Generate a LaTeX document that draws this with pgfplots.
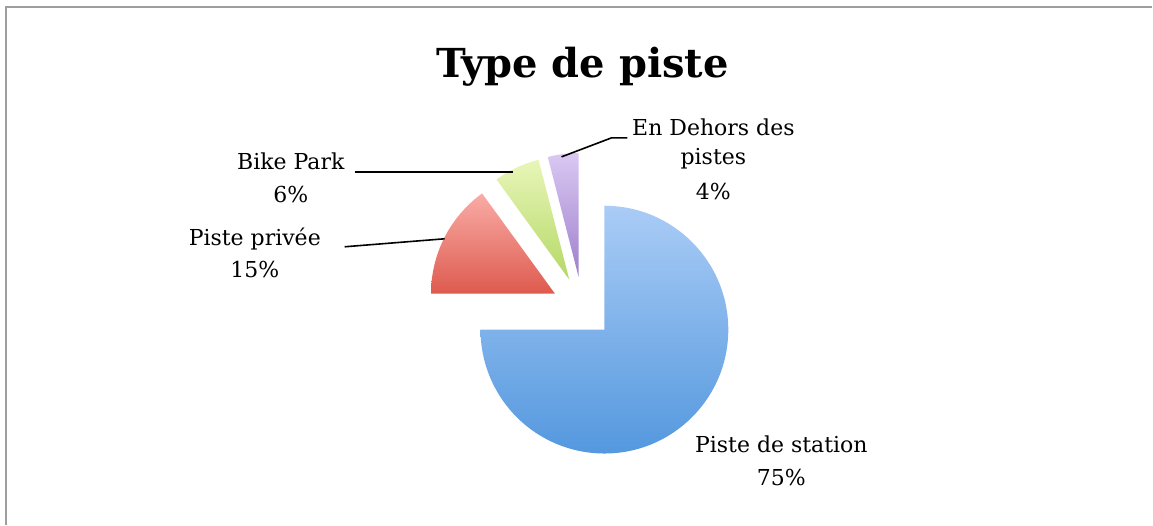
\documentclass[border=0pt]{standalone}
\usepackage{pgfplots}
\pgfplotsset{compat=1.18}
\usepackage{pgfplotstable}
\usepackage{fontspec}
\setmainfont{DejaVu Serif}
\usetikzlibrary{calc}

\definecolor{blueT}{RGB}{170,204,246}
\definecolor{blueB}{RGB}{84,152,222}
\definecolor{redT}{RGB}{249,172,166}
\definecolor{redB}{RGB}{222,90,78}
\definecolor{greenT}{RGB}{232,246,184}
\definecolor{greenB}{RGB}{180,216,102}
\definecolor{purpT}{RGB}{218,200,242}
\definecolor{purpB}{RGB}{158,128,204}

% share of each slice, in the order of the pie (clockwise from 12 o'clock)
\pgfplotstableread{
part pct
station 75
privee 15
bike 6
dehors 4
}\piedata

% start / end / middle angle of each slice
\def\startangle{90}
\pgfplotstableforeachcolumnelement{pct}\of\piedata\as\p{%
  \pgfmathsetmacro\endangle{\startangle-3.6*\p}%
  \pgfmathsetmacro\midangle{(\startangle+\endangle)/2}%
  \expandafter\xdef\csname sa\pgfplotstablerow\endcsname{\startangle}%
  \expandafter\xdef\csname ea\pgfplotstablerow\endcsname{\endangle}%
  \expandafter\xdef\csname ma\pgfplotstablerow\endcsname{\midangle}%
  \xdef\startangle{\endangle}%
}

\def\cx{583}\def\cy{217}\def\rad{124}\def\explode{31}
\newcommand\slice[3]{%
  \shade[top color=#2,bottom color=#3]
    ($(axis cs:\cx,\cy)+(\csname ma#1\endcsname:\explode pt)$)
    -- ++(\csname sa#1\endcsname:\rad pt)
    arc[start angle=\csname sa#1\endcsname, end angle=\csname ea#1\endcsname, radius=\rad pt]
    -- cycle;}

\begin{document}
\begin{tikzpicture}[lbl/.style={anchor=base, font=\fontsize{22}{26}\selectfont, inner sep=0pt}]
\begin{axis}[
  width=1153pt, height=525pt, scale only axis,
  xmin=0, xmax=1153, ymin=0, ymax=525,
  hide axis, clip=false,
]
\path (axis cs:0,0) rectangle (axis cs:1153,525);
\draw[line width=2pt, black!38] (axis cs:6,0) -- (axis cs:6,518) -- (axis cs:1153,518);

\slice{0}{blueT}{blueB}
\slice{1}{redT}{redB}
\slice{2}{greenT}{greenB}
\slice{3}{purpT}{purpB}

\node[anchor=base, font=\fontsize{40}{46}\selectfont\bfseries] at (axis cs:583,447) {Type de piste};

\draw[line width=1.6pt] (axis cs:345,278) -- (axis cs:445,286);
\draw[line width=1.6pt] (axis cs:355,353) -- (axis cs:513,353);
\draw[line width=1.6pt] (axis cs:562,368) -- (axis cs:612,387) -- (axis cs:628,387);

\node[lbl] at (axis cs:782,72) {Piste de station};
\node[lbl] at (axis cs:782,39) {75\%};
\node[lbl] at (axis cs:255,279) {Piste privée};
\node[lbl] at (axis cs:255,247) {15\%};
\node[lbl] at (axis cs:291,355) {Bike Park};
\node[lbl] at (axis cs:291,322) {6\%};
\node[lbl] at (axis cs:714,389) {En Dehors des};
\node[lbl] at (axis cs:714,360) {pistes};
\node[lbl] at (axis cs:714,325) {4\%};
\end{axis}
\end{tikzpicture}
\end{document}
